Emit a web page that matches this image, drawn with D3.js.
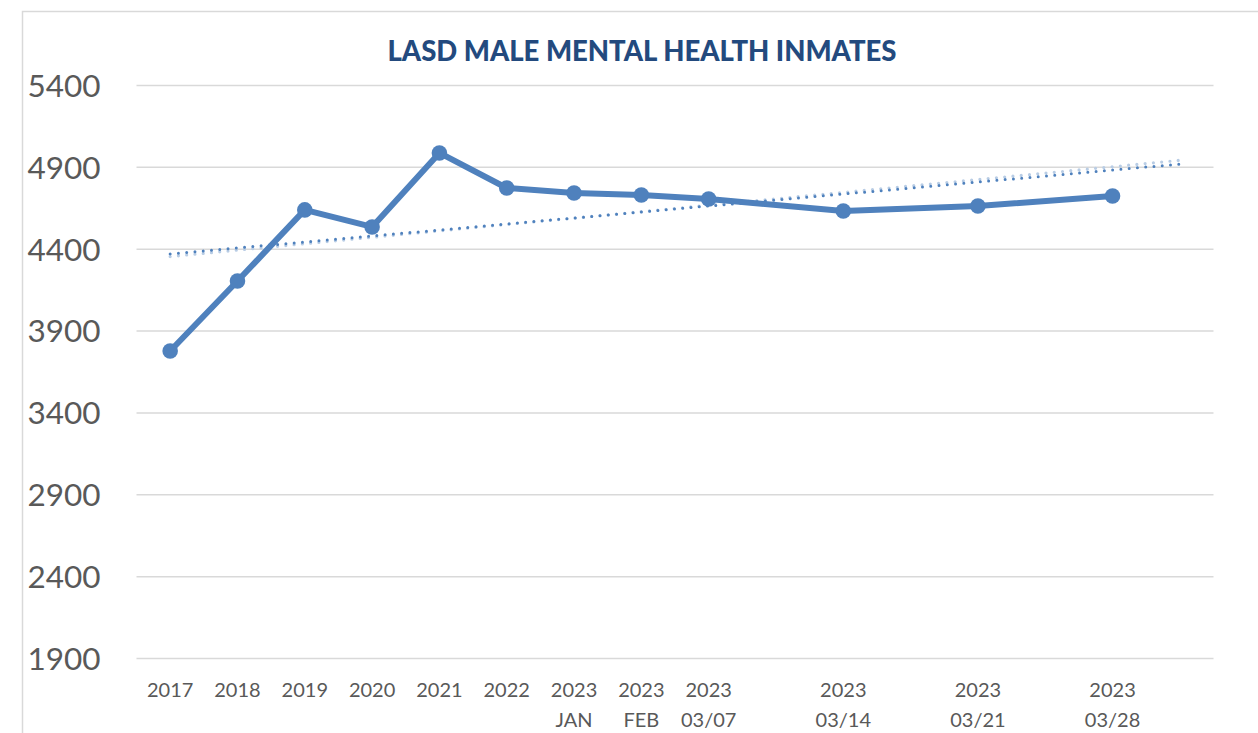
<!DOCTYPE html>
<html>
<head>
<meta charset="utf-8">
<script src="https://cdn.jsdelivr.net/npm/d3@7"></script>
<style>
  html, body { margin: 0; padding: 0; background: #fff; }
  svg { display: block; }
</style>
</head>
<body>
<svg id="chart" width="1258" height="733"></svg>
<script>
// ---- data ----
const title = "LASD MALE MENTAL HEALTH INMATES";
// category slots (blank slots keep the uneven spacing of the source chart)
const categoryLine1 = ["2017","2018","2019","2020","2021","2022","2023","2023","2023","","2023","","2023","","2023",""];
const categoryLine2 = ["","","","","","","JAN","FEB","03/07","","03/14","","03/21","","03/28",""];
const inmates = [3775, 4203, 4637, 4533, 4985, 4771, 4740, 4728, 4704, null, 4630, null, 4661, null, 4722, null];
const trendSlots = [0, 15];
const trendDark = [4368, 4917];
const trendLight = [4352, 4940];
const yTicks = [1900, 2400, 2900, 3400, 3900, 4400, 4900, 5400];

// ---- layout ----
const svg = d3.select("#chart");
const plot = { left: 136.5, right: 1213.5, top: 85, bottom: 658 };

// chart frame (partially visible border)
svg.append("path")
  .attr("d", "M22.5,733 V11.5 H1258")
  .attr("fill", "none").attr("stroke", "#d9d9d9").attr("stroke-width", 1.5);

const x = d3.scaleBand()
  .domain(d3.range(categoryLine1.length))
  .range([plot.left, plot.right])
  .padding(0);
const cx = i => x(i) + x.bandwidth() / 2;

const y = d3.scaleLinear().domain([1900, 5400]).range([plot.bottom, plot.top]);

// gridlines
const yAxis = d3.axisLeft(y).tickValues(yTicks)
  .tickSize(-(plot.right - plot.left)).tickFormat(d3.format("d")).tickPadding(36);
const gy = svg.append("g").attr("transform", `translate(${plot.left},0)`).call(yAxis);
gy.select(".domain").remove();
gy.selectAll(".tick line").attr("stroke", "#d9d9d9").attr("stroke-width", 1.5);
gy.selectAll(".tick text")
  .attr("fill", "#595959")
  .attr("font-family", "Lato, 'Open Sans', sans-serif")
  .attr("font-size", 31.5)
  .attr("dy", "0.36em");

// x axis labels
const xAxis = d3.axisBottom(x).tickSize(0).tickFormat(i => categoryLine1[i]);
const gx = svg.append("g").attr("transform", `translate(0,${plot.bottom})`).call(xAxis);
gx.select(".domain").remove();
gx.selectAll(".tick text").remove();
gx.selectAll(".tick").each(function(i) {
  const t = d3.select(this).append("text")
    .attr("fill", "#595959")
    .attr("font-family", "Lato, 'Open Sans', sans-serif")
    .attr("font-size", 20)
    .attr("text-anchor", "middle");
  t.append("tspan").attr("x", 0).attr("y", 39).text(categoryLine1[i]);
  t.append("tspan").attr("x", 0).attr("y", 69).text(categoryLine2[i]);
});

// trendlines (dotted)
const trendLine = vals => d3.line().x((d, k) => cx(trendSlots[k])).y(d => y(d))(vals);
svg.append("path").attr("d", trendLine(trendLight))
  .attr("fill", "none").attr("stroke", "#b9cde5").attr("stroke-width", 3.2)
  .attr("stroke-linecap", "round").attr("stroke-dasharray", "0 8.3");
svg.append("path").attr("d", trendLine(trendDark))
  .attr("fill", "none").attr("stroke", "#4f81bd").attr("stroke-width", 3)
  .attr("stroke-linecap", "round").attr("stroke-dasharray", "0 8.3");

// main series
const pts = inmates.map((v, i) => ({ i, v })).filter(d => d.v !== null);
const line = d3.line().x(d => cx(d.i)).y(d => y(d.v));
svg.append("path").datum(pts).attr("d", line)
  .attr("fill", "none").attr("stroke", "#4f81bd").attr("stroke-width", 6)
  .attr("stroke-linejoin", "round");
svg.selectAll("circle.pt").data(pts).enter().append("circle")
  .attr("class", "pt")
  .attr("cx", d => cx(d.i)).attr("cy", d => y(d.v)).attr("r", 7.8)
  .attr("fill", "#4f81bd");

// title
svg.append("text")
  .attr("x", 642).attr("y", 61)
  .attr("text-anchor", "middle")
  .attr("fill", "#234a7e")
  .attr("font-family", "Lato, 'Open Sans', sans-serif")
  .attr("font-weight", "900")
  .attr("font-size", 27.5)
  .text(title);
</script>
</body>
</html>
